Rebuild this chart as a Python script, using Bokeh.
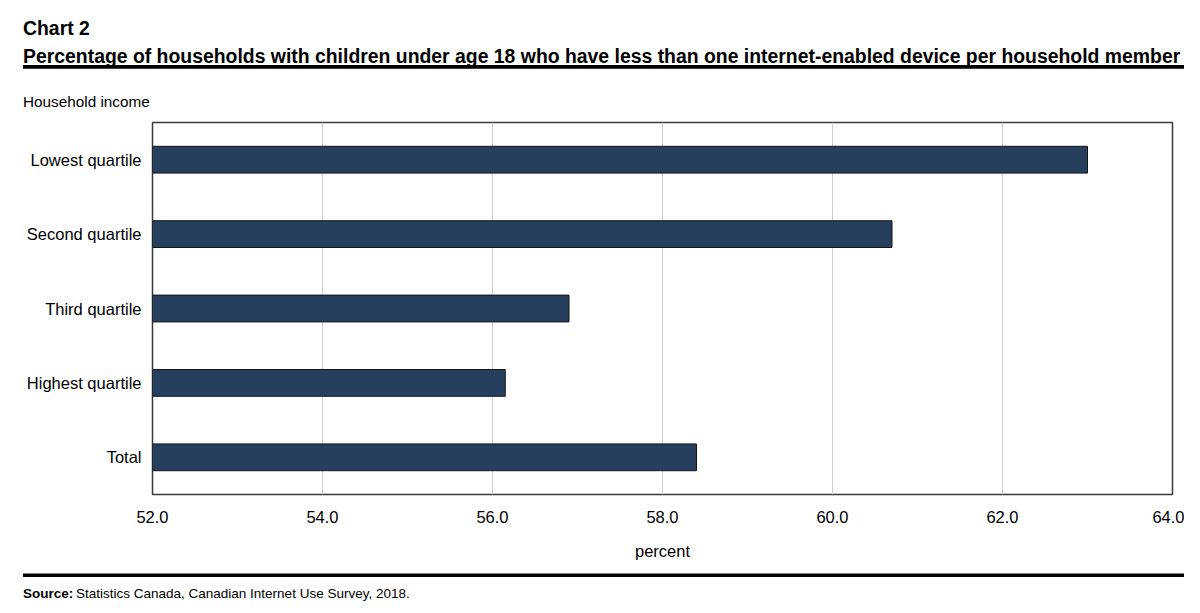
from bokeh.plotting import figure
from bokeh.layouts import column
from bokeh.models import FactorRange, Range1d, FixedTicker, NumeralTickFormatter, Label, BoxAnnotation
from bokeh.embed import file_html
from bokeh.resources import INLINE

# ---- data ----
categories = ["Lowest quartile", "Second quartile", "Third quartile", "Highest quartile", "Total"]
values = [63.0, 60.7, 56.9, 56.15, 58.4]
x_ticks = [52, 54, 56, 58, 60, 62, 64]

chart_no = "Chart 2"
chart_title = ("Percentage of households with children under age 18 who have less than "
               "one internet-enabled device per household member")
y_title = "Household income"
x_title = "percent"
source_bold = "Source:"
source_text = "Statistics Canada, Canadian Internet Use Survey, 2018."

# ---- style ----
BAR = "#263f5e"
FONT = "Liberation Sans"
W = 1184
HEAD_H, MAIN_H, FOOT_H = 110, 456, 40
FL, FR, FT, FB = 152, 1172, 122, 494   # frame edges in page px
X0, X1 = 52, 64


def no_align(f):
    try:
        f.frame_align = False
    except Exception:
        pass


def blank_panel(height):
    """A plain drawing panel whose data units are pixels (y down)."""
    f = figure(width=W, height=height, x_range=Range1d(0, W), y_range=Range1d(height, 0),
               output_backend="svg", toolbar_location=None,
               x_axis_type=None, y_axis_type=None,
               min_border=0, min_border_left=0, min_border_right=0,
               min_border_top=0, min_border_bottom=0)
    f.outline_line_color = None
    f.xgrid.grid_line_color = None
    f.ygrid.grid_line_color = None
    f.background_fill_color = "white"
    f.border_fill_color = "white"
    no_align(f)
    return f


def add_text(f, txt, x, y, size, bold=False):
    f.add_layout(Label(x=x, y=y, text=txt, text_font=FONT, text_font_size=size,
                       text_font_style="bold" if bold else "normal",
                       text_color="#000000", text_baseline="alphabetic", text_align="left"))


def add_rule(f, top, bottom):
    f.add_layout(BoxAnnotation(left=22.5, right=1184, top=top, bottom=bottom,
                               fill_color="#000000", fill_alpha=1.0, line_color=None))


# ---- header ----
head = blank_panel(HEAD_H)
add_text(head, chart_no, 22.5, 27.3, "19.4px", bold=True)
add_text(head, chart_title, 22.5, 55, "19.4px", bold=True)
add_rule(head, 64.5, 68.3)
add_text(head, y_title, 22.5, 101.3, "15.3px")

# ---- main chart ----
top0 = HEAD_H
p = figure(width=W, height=MAIN_H, x_range=Range1d(X0, X1),
           y_range=FactorRange(factors=categories[::-1]),
           output_backend="svg", toolbar_location=None,
           min_border_left=FL, min_border_right=W - FR,
           min_border_top=FT - top0, min_border_bottom=top0 + MAIN_H - FB)
no_align(p)

p.hbar(y=categories, left=X0, right=values, height=0.36,
       fill_color=BAR, line_color="#151515", line_width=1)

for ax in (p.xaxis, p.yaxis):
    ax.axis_line_color = None
    ax.major_tick_line_color = None
    ax.minor_tick_line_color = None
    ax.major_tick_out = 0
    ax.major_tick_in = 0
    ax.major_label_text_font = FONT
    ax.major_label_text_font_size = "16.5px"
    ax.major_label_text_color = "#000000"

p.xaxis.ticker = FixedTicker(ticks=x_ticks)
p.xaxis.formatter = NumeralTickFormatter(format="0.0")
p.xaxis.major_label_standoff = 16
p.xaxis.axis_label = x_title
p.xaxis.axis_label_text_font = FONT
p.xaxis.axis_label_text_font_style = "normal"
p.xaxis.axis_label_text_font_size = "16.5px"
p.xaxis.axis_label_text_color = "#000000"
p.xaxis.axis_label_standoff = 16
p.yaxis.major_label_standoff = 11

p.xgrid.grid_line_color = "#cfcfcf"
p.xgrid.grid_line_width = 1
p.ygrid.grid_line_color = None
p.outline_line_color = "#3a3a3a"
p.outline_line_width = 1.5
p.background_fill_color = "white"
p.border_fill_color = "white"

# ---- footer ----
top1 = HEAD_H + MAIN_H
foot = blank_panel(FOOT_H)
add_rule(foot, 573.0 - top1, 576.6 - top1)
add_text(foot, source_bold, 22.5, 593.0 - top1, "13.5px", bold=True)
add_text(foot, source_text, 75.5, 593.0 - top1, "13.5px")

layout = column(head, p, foot, spacing=0)
open("out.html", "w").write(file_html(layout, INLINE))
